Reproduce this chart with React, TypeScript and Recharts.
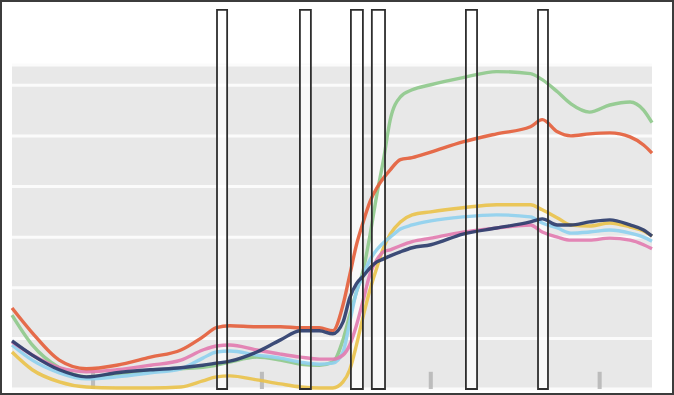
import { LineChart, Line, XAxis, YAxis, CartesianGrid, ReferenceArea } from 'recharts'

// shared x positions (axis ticks at 0, 10, 20, 30)
const xs = [
  -4.8, -3.6, -2, -0.4, 1.4, 3.4, 5.2, 6.5, 7.3, 8.1, 9.7, 11.1, 12.3, 13.4, 14.2, 14.8, 15.2, 15.6, 16,
  16.4, 16.8, 17.2, 17.6, 18.2, 18.9, 20, 21.9, 23.9, 25.9, 26.6, 27.5, 28.3, 29.4, 30.6, 31.8, 32.6, 33.1,
]

const green = [
  1.46, 0.87, 0.42, 0.24, 0.3, 0.36, 0.4, 0.43, 0.47, 0.53, 0.63, 0.57, 0.49, 0.47, 0.53, 0.97, 1.46, 1.92, 2.35,
  3.04, 3.83, 4.53, 5.32, 5.77, 5.91, 6.01, 6.15, 6.27, 6.23, 6.11, 5.87, 5.63, 5.47, 5.61, 5.67, 5.51, 5.26,
]
const red = [
  1.6, 1.11, 0.57, 0.4, 0.47, 0.63, 0.77, 1.03, 1.21, 1.25, 1.23, 1.23, 1.21, 1.21, 1.15, 1.66, 2.25, 2.85, 3.3,
  3.7, 3.97, 4.17, 4.33, 4.53, 4.57, 4.68, 4.88, 5.04, 5.18, 5.32, 5.08, 5.0, 5.04, 5.06, 4.98, 4.82, 4.66,
]
const yellow = [
  0.73, 0.38, 0.14, 0.04, 0.02, 0.02, 0.04, 0.16, 0.24, 0.26, 0.18, 0.1, 0.04, 0.02, 0.02, 0.14, 0.38, 0.87, 1.44,
  1.96, 2.39, 2.79, 3.06, 3.3, 3.44, 3.5, 3.58, 3.64, 3.64, 3.54, 3.38, 3.24, 3.22, 3.28, 3.2, 3.12, 3.02,
]
const cyan = [
  0.87, 0.57, 0.32, 0.2, 0.24, 0.32, 0.4, 0.61, 0.73, 0.75, 0.67, 0.61, 0.53, 0.49, 0.51, 0.73, 1.32, 1.92, 2.25,
  2.55, 2.75, 2.89, 3.0, 3.16, 3.24, 3.32, 3.4, 3.44, 3.4, 3.28, 3.18, 3.08, 3.1, 3.14, 3.08, 3.0, 2.92,
]
const pink = [
  0.93, 0.67, 0.42, 0.34, 0.38, 0.47, 0.57, 0.77, 0.85, 0.87, 0.77, 0.69, 0.63, 0.59, 0.59, 0.67, 0.87, 1.26, 1.76,
  2.27, 2.55, 2.71, 2.75, 2.83, 2.91, 2.98, 3.1, 3.18, 3.24, 3.1, 3.0, 2.94, 2.94, 2.98, 2.94, 2.85, 2.77,
]
const navy = [
  0.95, 0.67, 0.38, 0.24, 0.32, 0.38, 0.42, 0.47, 0.51, 0.55, 0.73, 0.97, 1.15, 1.15, 1.09, 1.32, 1.8, 2.08, 2.23,
  2.39, 2.51, 2.57, 2.63, 2.71, 2.79, 2.85, 3.06, 3.18, 3.3, 3.36, 3.24, 3.24, 3.3, 3.34, 3.24, 3.14, 3.02,
]

const xTicks = [0, 10, 20, 30]
const yTicks = [0, 1, 2, 3, 4, 5, 6]

// highlighted windows (x ranges)
const windows = [
  [7.34, 7.94],
  [12.25, 12.9],
  [15.27, 15.98],
  [16.51, 17.29],
  [22.08, 22.74],
  [26.35, 26.94],
]

const series = [
  { key: 'green', color: '#8fc98c', values: green },
  { key: 'yellow', color: '#e9c24c', values: yellow },
  { key: 'cyan', color: '#8fd0ee', values: cyan },
  { key: 'pink', color: '#e27cb0', values: pink },
  { key: 'red', color: '#e45f3c', values: red },
  { key: 'navy', color: '#2c3d6c', values: navy },
]

const data = xs.map((x, i) => {
  const row: Record<string, number> = { x }
  series.forEach(s => { row[s.key] = s.values[i] })
  return row
})

export default function App() {
  return (
    <div style={{ position: 'absolute', left: 0, top: 0, width: 674, height: 395, background: '#fff' }}>
      <LineChart width={674} height={395} data={data} margin={{ top: 65, right: 22, bottom: 6, left: 12 }}>
        <CartesianGrid vertical={false} fill="#e8e8e8" stroke="#fbfbfb" strokeWidth={3} />
        <XAxis
          dataKey="x"
          type="number"
          domain={[-4.8, 33.1]}
          ticks={xTicks}
          height={0}
          tick={false}
          tickLine={false}
          axisLine={{ stroke: '#8c8c8c', strokeWidth: 3 }}
        />
        <YAxis hide domain={[0, 6.4]} ticks={yTicks} type="number" />
        {/* pale inside of the windows */}
        {windows.map(([a, b]) => (
          <ReferenceArea
            key={'bg' + a}
            x1={a}
            x2={b}
            y1={0}
            y2={6.4}
            fill="#ffffff"
            fillOpacity={0.7}
            stroke="none"
            zIndex={-50}
          />
        ))}
        {/* small tick stubs on the axis */}
        {xTicks.map(t => (
          <ReferenceArea
            key={'t' + t}
            x1={t - 0.12}
            x2={t + 0.12}
            y1={0}
            y2={0.34}
            fill="#b0b0b0"
            fillOpacity={0.8}
            stroke="none"
            zIndex={-40}
          />
        ))}
        {series.map(s => (
          <Line
            key={s.key}
            type="monotone"
            dataKey={s.key}
            stroke={s.color}
            strokeWidth={3.4}
            strokeOpacity={0.92}
            dot={false}
            activeDot={false}
            isAnimationActive={false}
          />
        ))}
        {windows.map(([a, b]) => (
          <ReferenceArea
            key={a}
            x1={a}
            x2={b}
            y1={0}
            y2={7.49}
            ifOverflow="visible"
            fill="none"
            fillOpacity={0}
            stroke="#2e2e2e"
            strokeWidth={1.8}
            zIndex={1000}
          />
        ))}
      </LineChart>
      <div
        style={{
          position: 'absolute', left: 0, top: 0, width: 674, height: 395,
          boxSizing: 'border-box', border: '2px solid #3c3c3c', pointerEvents: 'none',
        }}
      />
    </div>
  )
}
